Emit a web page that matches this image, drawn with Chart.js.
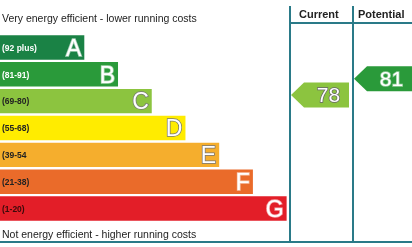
<!DOCTYPE html>
<html>
<head>
<meta charset="utf-8">
<script src="https://cdn.jsdelivr.net/npm/chart.js@4"></script>
<style>
  body { margin: 0; background: #fff; }
  canvas { display: block; }
</style>
</head>
<body>
<canvas id="epc-chart" width="412" height="247"></canvas>
<script>
// Energy efficiency rating bands
const bands = ["A", "B", "C", "D", "E", "F", "G"];
const bandRanges = ["(92 plus)", "(81-91)", "(69-80)", "(55-68)", "(39-54", "(21-38)", "(1-20)"];
const bandLengths = [2.5, 3.5, 4.5, 5.5, 6.5, 7.5, 8.5];
const bandColors = ["#1a8245", "#2a9a3a", "#8cc43f", "#ffec00", "#f5ae2d", "#ea6b2a", "#e31e28"];
const rangeTextColors = ["#fff", "#fff", "#222", "#222", "#222", "#222", "#3a0a0a"];
const outlinedLetters = ["C", "D", "E"];

// Ratings
const ratingColumns = ["Current", "Potential"];
const ratingValues = [78, 81];
const ratingColors = ["#8cc43f", "#2a9a3a"];

const lineColor = "#2a7a88";
const font = "'Liberation Sans', Arial, sans-serif";

const epcPlugin = {
  id: "epc",
  afterDraw(chart) {
    const c = chart.ctx;
    const score = chart.scales.score;
    const W = chart.width;
    const colX = [290, 353, W];

    c.save();
    // band labels
    bands.forEach((b, i) => {
      const bar = chart.getDatasetMeta(0).data[i];
      c.textBaseline = "middle";
      c.font = "bold 8.5px " + font;
      c.fillStyle = rangeTextColors[i];
      c.textAlign = "left";
      c.fillText(bandRanges[i], 2, bar.y + 1);
      c.font = "23px " + font;
      c.textAlign = "right";
      c.lineWidth = 1.5;
      c.strokeStyle = outlinedLetters.includes(b) ? "#777" : "rgba(255,255,255,0.6)";
      c.strokeText(b, bar.x - 3, bar.y + 2);
      c.fillStyle = "#fff";
      c.fillText(b, bar.x - 3, bar.y + 2);
    });

    // captions
    c.textAlign = "left";
    c.textBaseline = "alphabetic";
    c.fillStyle = "#222";
    c.font = "10.5px " + font;
    c.fillText("Very energy efficient - lower running costs", 2, 22);
    c.fillText("Not energy efficient - higher running costs", 2, 238);

    // column headers and grid
    c.font = "bold 11px " + font;
    c.fillText(ratingColumns[0], 299, 18);
    c.fillText(ratingColumns[1], 358, 18);
    c.strokeStyle = lineColor;
    c.lineWidth = 2;
    c.beginPath();
    c.moveTo(colX[0], 6); c.lineTo(colX[0], 243);
    c.moveTo(colX[1], 6); c.lineTo(colX[1], 243);
    c.moveTo(colX[0], 23); c.lineTo(W, 23);
    c.moveTo(0, 242); c.lineTo(W, 242);
    c.stroke();

    // rating arrows
    ratingValues.forEach((v, i) => {
      const cy = score.getPixelForValue(v);
      const left = colX[i] + 1;
      const right = i === 0 ? colX[1] - 4 : W;
      const h = 25;
      c.fillStyle = ratingColors[i];
      c.beginPath();
      c.moveTo(left, cy);
      c.lineTo(left + 13, cy - h / 2);
      c.lineTo(right, cy - h / 2);
      c.lineTo(right, cy + h / 2);
      c.lineTo(left + 13, cy + h / 2);
      c.closePath();
      c.fill();
      c.font = "21px " + font;
      c.textAlign = "center";
      c.textBaseline = "middle";
      const tx = (left + 13 + right) / 2 + 2;
      c.lineWidth = 1.5;
      c.strokeStyle = i === 0 ? "#666" : "rgba(255,255,255,0.5)";
      c.strokeText(String(v), tx, cy + 1);
      c.fillStyle = "#fff";
      c.fillText(String(v), tx, cy + 1);
    });
    c.restore();
  },
};

new Chart(document.getElementById("epc-chart"), {
  type: "bar",
  data: {
    labels: bands,
    datasets: [
      {
        data: bandLengths,
        backgroundColor: bandColors,
        barPercentage: 0.91,
        categoryPercentage: 1,
      },
    ],
  },
  options: {
    indexAxis: "y",
    responsive: false,
    animation: false,
    devicePixelRatio: 1,
    layout: { padding: { left: 0, right: 122, top: 34, bottom: 25 } },
    plugins: { legend: { display: false }, tooltip: { enabled: false } },
    scales: {
      x: { display: false, min: 0, max: 8.6 },
      y: { display: false },
      score: { axis: "y", type: "linear", display: false, offset: false, min: 54.2, max: 89.4 },
    },
  },
  plugins: [epcPlugin],
});
</script>
</body>
</html>
